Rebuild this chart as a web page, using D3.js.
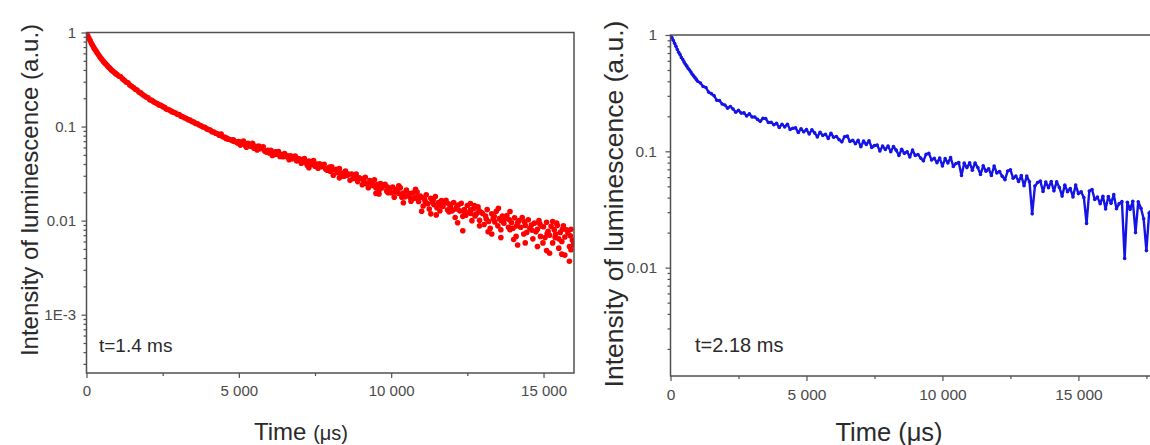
<!DOCTYPE html>
<html><head><meta charset="utf-8">
<script src="https://cdn.jsdelivr.net/npm/d3@7"></script>
<style>
body{margin:0;background:#fff;}
svg{display:block;font-family:"Liberation Sans",Arial,sans-serif;}
</style></head><body>
<svg id="chart" width="1150" height="445"></svg>
<script>
// ---- data ----
const redData = [
[0,1],[40,.93],[80,.87],[120,.82],[160,.77],[200,.73],[240,.69],[280,.66],[320,.63],[360,.6],[400,.575],[440,.55],[480,.53],[520,.51],[560,.49],[600,.475],[640,.46],[680,.445],[720,.43],[760,.42],[800,.405],[840,.395],[880,.385],[920,.375],[960,.365],[1000,.357],
[1060,.345],[1120,.338],[1180,.322],[1240,.31],[1300,.298],[1360,.292],[1420,.277],[1480,.268],[1540,.26],[1600,.249],[1660,.245],[1720,.233],[1780,.228],[1840,.219],[1900,.213],[1960,.206],[2020,.202],[2080,.193],[2140,.19],[2200,.184],[2260,.179],[2320,.176],[2380,.17],[2440,.168],[2500,.163],[2560,.16],[2620,.154],[2680,.152],[2740,.149],[2800,.144],[2860,.142],[2920,.139],[2980,.135],[3040,.134],[3100,.129],[3160,.127],[3220,.124],[3280,.122],[3340,.118],[3400,.117],[3460,.113],[3520,.112],[3580,.108],[3640,.107],[3700,.104],[3760,.102],[3820,.099],[3880,.0985],[3940,.095],[4000,.093],[4060,.092],[4120,.088],[4180,.0875],[4240,.085],[4300,.084],[4360,.081],[4420,.0805],[4480,.078],[4540,.077],[4600,.0755],[4660,.0735],[4720,.0725],[4780,.071],[4840,.0695],[4900,.069],[4960,.067],
[5000,.0694],[5050,.0635],[5100,.0672],[5150,.0702],[5200,.0636],[5250,.0602],[5300,.0663],[5350,.0634],[5400,.0615],[5450,.0664],[5500,.0589],[5550,.0616],[5600,.0564],[5650,.062],[5700,.0581],[5750,.0598],[5800,.0608],[5850,.055],[5900,.0535],[5950,.056],
[6000,.0525],[6050,.0561],[6100,.0493],[6150,.0532],[6200,.0538],[6250,.0508],[6300,.0542],[6350,.048],[6400,.0504],[6450,.0478],[6500,.0517],[6550,.0482],[6600,.049],[6650,.0445],[6700,.049],[6750,.0455],[6800,.046],[6850,.0487],[6900,.0431],[6950,.0457],
[7000,.0451],[7050,.0408],[7100,.0435],[7150,.0458],[7200,.0409],[7250,.0385],[7300,.0431],[7350,.041],[7400,.0396],[7450,.0434],[7500,.0378],[7550,.0399],[7600,.0361],[7650,.0403],[7700,.0374],[7750,.0388],[7800,.0396],[7850,.0353],[7900,.0343],[7950,.0362],
[8000,.0335],[8050,.0373],[8100,.0304],[8150,.0345],[8200,.0352],[8250,.0323],[8300,.0358],[8350,.0297],[8400,.0321],[8450,.0297],[8500,.0337],[8550,.0303],[8600,.0312],[8650,.0268],[8700,.0313],[8750,.028],[8800,.0286],[8850,.0313],[8900,.026],[8950,.0286],
[9000,.028],[9050,.0241],[9100,.0267],[9150,.0289],[9200,.0246],[9250,.0224],[9300,.0267],[9350,.0249],[9400,.0237],[9450,.0272],[9500,.0223],[9550,.0243],[9600,.0209],[9650,.0248],[9700,.0223],[9750,.0236],[9800,.0243],[9850,.0206],[9900,.0198],[9950,.0216],
[10000,.0198],[10050,.0228],[10100,.0177],[10150,.021],[10200,.0216],[10250,.0194],[10300,.0223],[10350,.0177],[10400,.0197],[10450,.0179],[10500,.0211],[10550,.0185],[10600,.0194],[10650,.0161],[10700,.0197],[10750,.0172],[10800,.0178],[10850,.0201],[10900,.016],[10950,.0182],
[11000,.0177],[11050,.0143],[11100,.0168],[11150,.0188],[11200,.0151],[11250,.0133],[11300,.0173],[11350,.0157],[11400,.0148],[11450,.018],[11500,.0137],[11550,.0156],[11600,.0127],[11650,.0163],[11700,.0142],[11750,.0155],[11800,.0164],[11850,.013],[11900,.0124],[11950,.0141],
[12000,.0127],[12050,.0156],[12100,.0108],[12150,.0139],[12200,.0146],[12250,.0127],[12300,.0153],[12350,.0111],[12400,.0131],[12450,.0114],[12500,.0145],[12550,.0122],[12600,.013],[12650,.01],[12700,.0134],[12750,.0112],[12800,.0118],[12850,.014],[12900,.0101],[12950,.0123],
[13000,.0119],[13050,.0091],[13100,.0112],[13150,.0131],[13200,.0098],[13250,.0083],[13300,.0118],[13350,.0105],[13400,.0097],[13450,.0126],[13500,.0088],[13550,.0105],[13600,.008],[13650,.0112],[13700,.0094],[13750,.0106],[13800,.0113],[13850,.0085],[13900,.008],[13950,.0095],
[14000,.0083],[14050,.0107],[14100,.0068],[14150,.0095],[14200,.01],[14250,.0085],[14300,.0108],[14350,.0072],[14400,.0089],[14450,.0075],[14500,.0102],[14550,.0083],[14600,.009],[14650,.0064],[14700,.0094],[14750,.0076],[14800,.0081],[14850,.01],[14900,.0068],[14950,.0087],
[15000,.0086],[15050,.0066],[15100,.0096],[15150,.0077],[15200,.007],[15250,.0087],[15300,.0058],[15350,.008],[15400,.0072],[15450,.0089],[15500,.0064],[15550,.0075],[15600,.006],[15650,.0088],[15700,.0067],[15750,.008],[15800,.0074],[15850,.0053],[15900,.0081],[15950,.0062],
[12350,.0078],[14150,.0055],[15200,.0045],[15700,.0043],[15900,.0049],[13600,.0066],[11300,.0118],[10400,.0155],[9500,.0195],[15500,.0051],[14800,.0053],[13300,.0072],[8300,.0285],[12900,.0088],[15980,.0055],[15850,.0037],
[12600,.0152],[13900,.0125],[15300,.0098],[10800,.0215],[7300,.0365],[9600,.0192],[11000,.0126],[14400,.0058],[15600,.0044],[15100,.0048],
[9120,.0252],[9380,.0261],[9620,.0231],[9880,.0228],[10120,.0201],[10380,.0188],[10620,.0176],[10880,.0171],[11120,.0159],[11380,.0166],[11620,.0146],[11880,.0151],[12120,.0133],[12380,.0125],[12620,.0119],[12880,.0128],[13120,.0104],[13380,.0111],[13620,.0099],[13880,.0102],[14120,.0088],[14380,.0097],[14620,.0079],[14880,.0092],[15120,.0073],[15380,.0066],[15620,.0081],[15880,.0069],[13180,.0076],[14020,.0063],[14980,.0058],[12180,.0095],[11480,.0115],[15430,.0094],[12730,.0145],[13520,.0135],[10250,.0235],
[4420,.0835],[4580,.0745],[4820,.0725],[5280,.0645],[5720,.0602],[6180,.0505],[6620,.0472],[7080,.0425],[7520,.0395],[7980,.0372],[8420,.0308],[8840,.0295]
];

const blueData = [
[0,1],[50,.95],[100,.9],[150,.85],[200,.8],[250,.75],[300,.71],[350,.68],[400,.64],[450,.615],[500,.585],[550,.56],[600,.54],[650,.515],[700,.5],[750,.48],[800,.46],[850,.445],[900,.43],[950,.415],[1000,.4],
[1100,.387],[1200,.361],[1300,.354],[1400,.323],[1500,.313],[1600,.301],[1700,.275],[1800,.273],[1900,.255],[2000,.25],
[2100,.235],[2200,.243],[2300,.231],[2400,.217],[2500,.225],[2600,.213],[2700,.214],[2800,.201],[2900,.21],[3000,.197],
[3100,.197],[3200,.188],[3300,.181],[3400,.192],[3500,.191],[3600,.177],[3700,.178],[3800,.169],[3900,.174],[4000,.16],
[4100,.171],[4200,.162],[4300,.171],[4400,.154],[4500,.158],[4600,.159],[4700,.145],[4800,.156],[4900,.147],[5000,.154],
[5100,.141],[5200,.153],[5300,.144],[5400,.133],[5500,.146],[5600,.137],[5700,.14],[5800,.129],[5900,.143],[6000,.132],
[6100,.134],[6200,.126],[6300,.1206],[6400,.1335],[6500,.135],[6600,.1216],[6700,.1242],[6800,.116],[6900,.1242],[7000,.1095],
[7100,.1223],[7200,.1143],[7300,.1231],[7400,.108],[7500,.112],[7600,.1133],[7700,.1005],[7800,.1112],[7900,.1038],[8000,.1109],
[8100,.0991],[8200,.11],[8300,.1023],[8400,.0921],[8500,.1043],[8600,.096],[8700,.0992],[8800,.0894],[8900,.1027],[9000,.0922],
[9100,.0938],[9200,.0874],[9300,.0828],[9400,.0943],[9500,.0959],[9600,.0844],[9700,.0869],[9800,.0799],[9900,.0874],[10000,.0747],
[10100,.0866],[10200,.0794],[10300,.0882],[10400,.0742],[10500,.0785],[10600,.0802],[10700,.062],[10800,.0791],[10900,.0724],[11000,.0797],
[11100,.0688],[11200,.0794],[11300,.0725],[11400,.0632],[11500,.075],[11600,.0675],[11700,.0709],[11800,.0619],[11900,.0748],[12000,.0652],
[12100,.0669],[12200,.061],[12300,.057],[12400,.0677],[12500,.0693],[12600,.0588],[12700,.0612],[12800,.055],[12900,.0619],[13000,.0505],
[13100,.0612],[13200,.0548],[13300,.029],[13400,.0502],[13500,.054],[13600,.0554],[13700,.0451],[13800,.0545],[13900,.0487],[14000,.0549],
[14100,.0457],[14200,.0547],[14300,.0489],[14400,.0412],[14500,.0512],[14600,.045],[14700,.0479],[14800,.0405],[14900,.0513],[15000,.0433],
[15100,.0448],[15200,.0401],[15300,.024],[15400,.0456],[15500,.0469],[15600,.0385],[15700,.0404],[15800,.0354],[15900,.0411],[16000,.0319],
[16100,.0409],[16200,.0357],[16300,.0424],[16400,.0321],[16500,.0355],[16600,.0369],[16700,.012],[16800,.0364],[16900,.0317],[17000,.0372],
[17100,.02],[17200,.0368],[17300,.0324],[17400,.0263],[17500,.014],[17600,.0295],[17700,.0318],[17800,.026],[17900,.0347]
];

const xTicks = [0, 5000, 10000, 15000];
const xMinorTicks = [2500, 7500, 12500, 17500];
const leftYTicks = [1, 0.1, 0.01, 0.001];
const leftYLabels = ["1", "0.1", "0.01", "1E-3"];
const rightYTicks = [1, 0.1, 0.01];
const rightYLabels = ["1", "0.1", "0.01"];
const yTitle = "Intensity of luminescence (a.u.)";
const leftNote = "t=1.4 ms";
const rightNote = "t=2.18 ms";

// ---- drawing ----
const svg = d3.select("#chart");
const loc = d3.formatLocale({decimal: ".", thousands: " ", grouping: [3], currency: ["", ""]});
const xFmt = loc.format(",d");

function panel(cfg) {
  const x = d3.scaleLinear().domain(cfg.xDomain).range(cfg.xRange);
  const y = d3.scaleLog().domain(cfg.yDomain).range(cfg.yRange);
  const g = svg.append("g");
  const x0 = cfg.xRange[0], x1 = cfg.xRange[1], yB = cfg.yRange[0], yT = cfg.yRange[1];

  g.append("clipPath").attr("id", cfg.id + "clip").append("rect")
    .attr("x", x0).attr("y", yT).attr("width", x1 - x0).attr("height", yB - yT);

  const dg = g.append("g").attr("clip-path", `url(#${cfg.id}clip)`);
  if (cfg.line) {
    dg.append("path").datum(cfg.data)
      .attr("fill", "none").attr("stroke", cfg.color).attr("stroke-width", cfg.lineWidth)
      .attr("stroke-linejoin", "round")
      .attr("d", d3.line().x(d => x(d[0])).y(d => y(d[1])));
  }
  dg.selectAll("circle").data(cfg.data).join("circle")
    .attr("cx", d => x(d[0])).attr("cy", d => y(d[1])).attr("r", cfg.r)
    .attr("fill", cfg.color);

  g.append("rect").attr("x", x0).attr("y", yT).attr("width", x1 - x0).attr("height", yB - yT)
    .attr("fill", "none").attr("stroke", "#505050").attr("stroke-width", 1.5);

  const xa = g.append("g").attr("transform", `translate(0,${yB})`)
    .call(d3.axisBottom(x).tickValues(xTicks).tickFormat(xFmt).tickSize(5).tickPadding(cfg.xPad));
  const xm = g.append("g").attr("transform", `translate(0,${yB})`)
    .call(d3.axisBottom(x).tickValues(xMinorTicks.filter(v => v <= cfg.xDomain[1])).tickFormat("").tickSize(3));
  const ya = g.append("g").attr("transform", `translate(${x0},0)`)
    .call(d3.axisLeft(y).tickValues(cfg.yTicks).tickFormat((d, i) => cfg.yLabels[i]).tickSize(5).tickPadding(cfg.yPad));
  const minor = y.ticks().filter(v => Math.abs(Math.log10(v) - Math.round(Math.log10(v))) > 1e-6);
  const ym = g.append("g").attr("transform", `translate(${x0},0)`)
    .call(d3.axisLeft(y).tickValues(minor).tickFormat("").tickSize(3));
  [xa, xm, ya, ym].forEach(a => {
    a.select(".domain").remove();
    a.selectAll("line").attr("stroke", "#505050").attr("stroke-width", 1.2);
    a.selectAll("text").attr("font-size", cfg.tickFont).attr("fill", "#4a4a4a")
      .attr("font-family", "'Liberation Sans', Arial, sans-serif");
  });

  g.append("text").attr("transform", `translate(${cfg.yTitleX},${cfg.yTitleY}) rotate(-90)`)
    .attr("text-anchor", "middle").attr("dy", "0.35em").attr("font-size", cfg.yTitleSize)
    .attr("fill", "#2a2a2a").text(yTitle);

  const xt = g.append("text").attr("x", cfg.xTitleX).attr("y", cfg.xTitleY)
    .attr("text-anchor", "middle").attr("fill", "#2a2a2a").attr("font-size", cfg.xTitleSize);
  xt.append("tspan").text("Time ");
  xt.append("tspan").attr("font-size", cfg.unitSize).text("(μs)");

  g.append("text").attr("x", cfg.noteX).attr("y", cfg.noteY).attr("dy", "0.35em")
    .attr("font-size", cfg.noteSize).attr("fill", "#2a2a2a").text(cfg.note);
}

panel({
  id: "L", data: redData, color: "#ff0000", r: 2.8, line: false,
  xDomain: [0, 16000], xRange: [86.5, 574],
  yDomain: [2.4e-4, 1], yRange: [373, 32.5],
  yTicks: leftYTicks, yLabels: leftYLabels,
  xPad: 7, yPad: 5.5, tickFont: 15,
  yTitleX: 30, yTitleY: 190, yTitleSize: 24,
  xTitleX: 301, xTitleY: 440, xTitleSize: 24, unitSize: 20,
  noteX: 99, noteY: 345, noteSize: 19, note: leftNote
});

panel({
  id: "R", data: blueData, color: "#1414e6", r: 1.8, line: true, lineWidth: 2.4,
  xDomain: [0, 18000], xRange: [670.5, 1160],
  yDomain: [1.17e-3, 1], yRange: [376, 35],
  yTicks: rightYTicks, yLabels: rightYLabels,
  xPad: 7.5, yPad: 8.5, tickFont: 15.5,
  yTitleX: 614, yTitleY: 204, yTitleSize: 26.5,
  xTitleX: 889, xTitleY: 441, xTitleSize: 25.5, unitSize: 25.5,
  noteX: 695, noteY: 345, noteSize: 20, note: rightNote
});
</script>
</body></html>
